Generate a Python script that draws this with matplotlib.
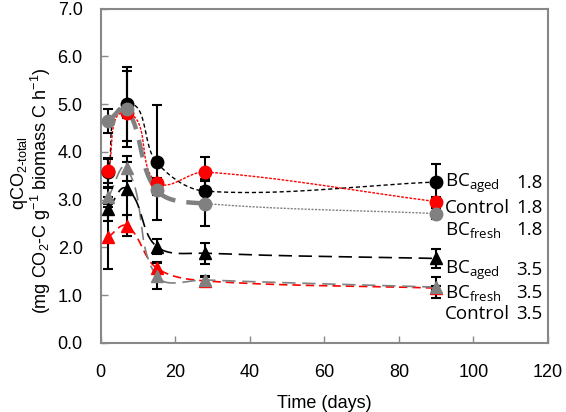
import numpy as np
import matplotlib
matplotlib.use('Agg')
import matplotlib.pyplot as plt

plt.rcParams['font.family'] = ['Liberation Sans', 'DejaVu Sans']
plt.rcParams['mathtext.default'] = 'regular'

days = [2, 7, 15, 28, 90]

# 1.8 series (circles)
aged18 = [3.57, 5.00, 3.78, 3.18, 3.37]
aged18_err = [0.30, 0.78, 1.20, 0.25, 0.38]
ctrl18 = [3.60, 4.82, 3.36, 3.58, 2.96]
ctrl18_err = [0.25, 0.10, 0.10, 0.32, 0.10]
fresh18 = [4.65, 4.90, 3.20, 2.92, 2.71]
fresh18_err = [0.25, 0.80, 0.10, 0.48, 0.12]

# 3.5 series (triangles)
aged35 = [2.80, 3.23, 2.02, 1.88, 1.77]
aged35_err = [0.25, 0.55, 0.16, 0.22, 0.20]
fresh35 = [3.05, 3.66, 1.40, 1.32, 1.17]
fresh35_err = [0.20, 0.26, 0.28, 0.08, 0.22]
ctrl35 = [2.22, 2.45, 1.57, 1.30, 1.15]
ctrl35_err = [0.68, 0.22, 0.12, 0.08, 0.05]

labels = ['BC$_{aged}$', 'Control', 'BC$_{fresh}$', 'BC$_{aged}$', 'BC$_{fresh}$', 'Control']
label_rates = ['1.8', '1.8', '1.8', '3.5', '3.5', '3.5']
label_y = [3.35, 2.83, 2.37, 1.53, 1.05, 0.61]

fig = plt.figure(figsize=(5.66, 4.12), dpi=100)
ax = fig.add_axes([0.178, 0.1675, 0.79, 0.8115])
ax.set_xlim(0, 120)
ax.set_ylim(0, 7)

# pixel scale of axes, used for excel-like smoothing
sx = 0.79 * 566 / 120.0
sy = 0.8115 * 412 / 7.0


def smooth(x, y, n=40):
    # bezier through the points, tangent lengths scaled by segment length
    p = np.column_stack([np.array(x) * sx, np.array(y) * sy])
    pts = []
    for i in range(len(p) - 1):
        p0 = p[i - 1] if i > 0 else p[i]
        p1, p2 = p[i], p[i + 1]
        p3 = p[i + 2] if i + 2 < len(p) else p[i + 1]
        L = np.hypot(*(p2 - p1))
        d1 = p2 - p0
        d2 = p3 - p1
        c1 = p1 + d1 / np.hypot(*d1) * L / 3.0
        c2 = p2 - d2 / np.hypot(*d2) * L / 3.0
        t = np.linspace(0, 1, n)[:, None]
        seg = ((1 - t) ** 3 * p1 + 3 * (1 - t) ** 2 * t * c1
               + 3 * (1 - t) * t ** 2 * c2 + t ** 3 * p2)
        pts.append(seg if i == 0 else seg[1:])
    pts = np.vstack(pts)
    return pts[:, 0] / sx, pts[:, 1] / sy


def bars(y, err):
    ax.errorbar(days, y, yerr=err, fmt='none', ecolor='black', elinewidth=1.5,
                capsize=3.5, capthick=1.5, zorder=3)


def series(y, err, color, marker, ms, ls_kw, z=4):
    xs, ys = smooth(days, y)
    ax.plot(xs, ys, color=color, **ls_kw, zorder=2)
    bars(y, err)
    ax.plot(days, y, linestyle='none', marker=marker, ms=ms, color=color, zorder=z)


series(ctrl35, ctrl35_err, 'red', '^', 9, dict(lw=1.2, dashes=(5, 3)))
series(fresh35, fresh35_err, 'grey', '^', 9, dict(lw=1.2, dashes=(8, 4)))
series(aged35, aged35_err, 'black', '^', 9, dict(lw=1.2, dashes=(8, 4)))

series(aged18, aged18_err, 'black', 'o', 9, dict(lw=1.0, dashes=(3, 2)), z=4)
series(ctrl18, ctrl18_err, 'red', 'o', 9, dict(lw=1.0, dashes=(2, 1)), z=5)

# BC fresh 1.8: thick dashes early, thin dotted later
xs, ys = smooth(days, fresh18)
early = xs <= 28
ax.plot(xs[early], ys[early], color='grey', lw=3.2, dashes=(4, 2.5), zorder=2)
ax.plot(xs[~early], ys[~early], color='grey', lw=1.0, dashes=(1.5, 1), zorder=2)
bars(fresh18, fresh18_err)
ax.plot(days, fresh18, linestyle='none', marker='o', ms=9, color='grey', zorder=6)

for lab, rate, yy in zip(labels, label_rates, label_y):
    ax.text(92.3, yy, lab, fontsize=13.5, family='Open Sans', va='center', ha='left')
    ax.text(118.6, yy, rate, fontsize=13.5, family='Open Sans', va='center', ha='right')

ax.set_xticks(range(0, 121, 20))
ax.set_yticks(range(0, 8))
ax.set_yticklabels(['%.1f' % v for v in range(0, 8)])
ax.tick_params(direction='in', labelsize=13, color='#888888', length=5, width=1)
ax.tick_params(axis='x', pad=15)
ax.tick_params(axis='y', pad=13)
for s in ax.spines.values():
    s.set_color('#888888')
    s.set_linewidth(1.5)

ax.set_xlabel('Time (days)', fontsize=13, labelpad=10)
fig.text(20 / 566, 1 - 173 / 412, 'qCO$_{2\\text{-}total}$', rotation=90,
         ha='center', va='center', fontsize=13)
fig.text(41 / 566, 1 - 191 / 412, '(mg CO$_2$-C g$^{-1}$ biomass C h$^{-1}$)', rotation=90,
         ha='center', va='center', fontsize=13)

fig.savefig('out.png', dpi=100)
